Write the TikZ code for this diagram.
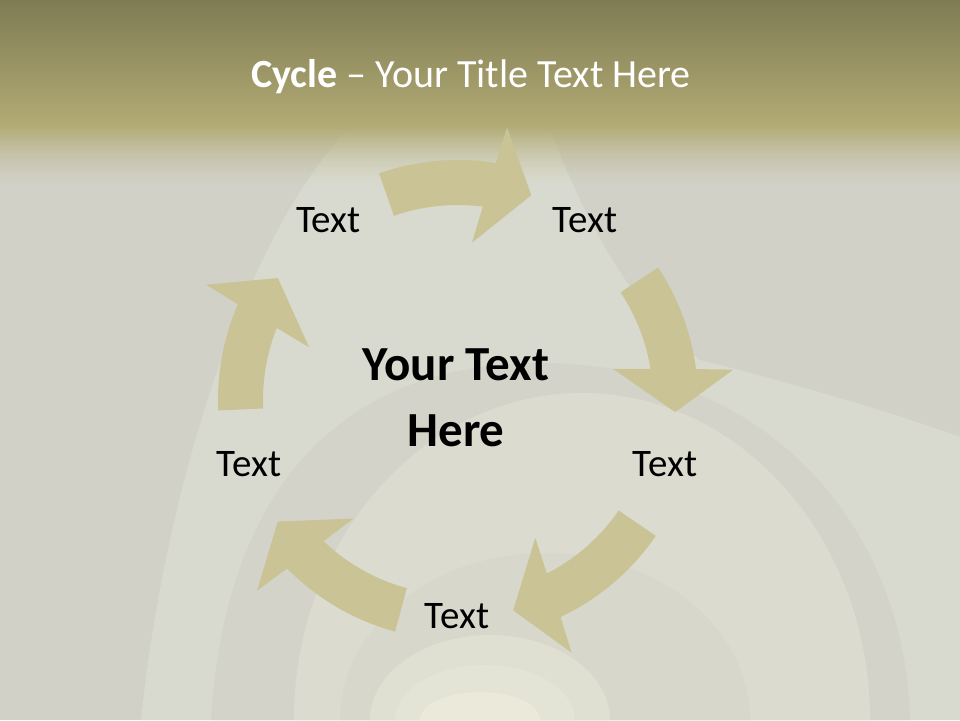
\documentclass[tikz,border=0pt]{standalone}
\usepackage{fontspec}
\setmainfont{Carlito}
\definecolor{bandtop}{HTML}{7F7B53}
\definecolor{bandbot}{HTML}{B2AB75}
\definecolor{bgbase}{HTML}{D1D1C7}
\definecolor{archA}{HTML}{D9DACF}
\definecolor{archB}{HTML}{D3D3C9}
\definecolor{archC}{HTML}{DBDBD0}
\definecolor{archD}{HTML}{D7D7CC}
\definecolor{archE}{HTML}{DFDFD2}
\definecolor{archF}{HTML}{E4E4D6}
\definecolor{archG}{HTML}{EAE9DA}
\definecolor{arrowc}{HTML}{C9C396}
\tikzset{
  arrowfill/.style={fill=arrowc},
  lbl/.style={anchor=base, inner sep=0pt, text=black, font=\fontsize{39}{47}\selectfont},
  centertext/.style={anchor=center, inner sep=0pt, align=center, text=black, font=\fontsize{49}{66}\selectfont\bfseries},
  titletext/.style={anchor=base, inner sep=0pt, text=white, font=\fontsize{40}{48}\selectfont}
}
\newcommand\cycarrow[2]{%
  \fill[arrowfill] (#1:240pt) arc[start angle=#1, end angle={#2+10.6}, radius=240pt]
    -- ({#2+9.5}:277pt) -- (#2:217.5pt) -- ({#2+14.6}:158pt) -- ({#2+12.4}:195pt)
    arc[start angle={#2+12.4}, end angle=#1, radius=195pt] -- cycle;}
\begin{document}
\begin{tikzpicture}[x=1pt,y=1pt]
\useasboundingbox (0,0) rectangle (960,720);
% background
\fill[bgbase] (0,0) rectangle (960,720);
\fill[archA] (141,0) .. controls (165,230) and (240,460) .. (330,570) -- (370,620) -- (540,620)
  .. controls (580,500) and (640,400) .. (700,360) .. controls (800,335) and (900,305) .. (960,283) -- (960,0) -- cycle;
\fill[archB] (211,0) .. controls (225,230) and (340,357) .. (540,357) .. controls (760,357) and (905,200) .. (910,0) -- cycle;
\fill[archC] (294,0) arc[start angle=180, end angle=0, x radius=288pt, y radius=327pt] -- cycle;
\fill[archD] (340,0) arc[start angle=180, end angle=0, x radius=205pt, y radius=167pt] -- cycle;
\fill[archE] (370,0) arc[start angle=180, end angle=0, x radius=120pt, y radius=85pt] -- cycle;
\fill[archF] (395,0) arc[start angle=180, end angle=0, x radius=90pt, y radius=55pt] -- cycle;
\fill[archG] (420,0) arc[start angle=180, end angle=0, x radius=60pt, y radius=28pt] -- cycle;
% top band
\shade[top color=bandtop, bottom color=bandbot] (0,595) rectangle (960,720);
\foreach \k [evaluate=\k as \op using {(1-\k/30)^1.5}] in {0,...,29} {
  \fill[bandbot, opacity=\op] (0,{595-2*\k}) rectangle (960,{593-2*\k});
}
% cycle arrows
\coordinate (ctr) at (458,320);
\begin{scope}[shift={(ctr)}]
  \cycarrow{109.2}{70.3}
  \cycarrow{33.5}{-3.2}
  \cycarrow{-34.5}{-75.3}
  \cycarrow{-105.2}{-146}
  \cycarrow{182.5}{145.9}
\end{scope}
% texts
\node[titletext] (title) at (471,632) {\textbf{Cycle} – Your Title Text Here};
\node[lbl] (t1) at (328.5,487) {Text};
\node[lbl] (t2) at (585,487) {Text};
\node[lbl] (t3) at (665,243) {Text};
\node[lbl] (t4) at (457,92) {Text};
\node[lbl] (t5) at (249,243) {Text};
\node[centertext] (mid) at (456,322) {Your Text\\Here};
\end{tikzpicture}
\end{document}
